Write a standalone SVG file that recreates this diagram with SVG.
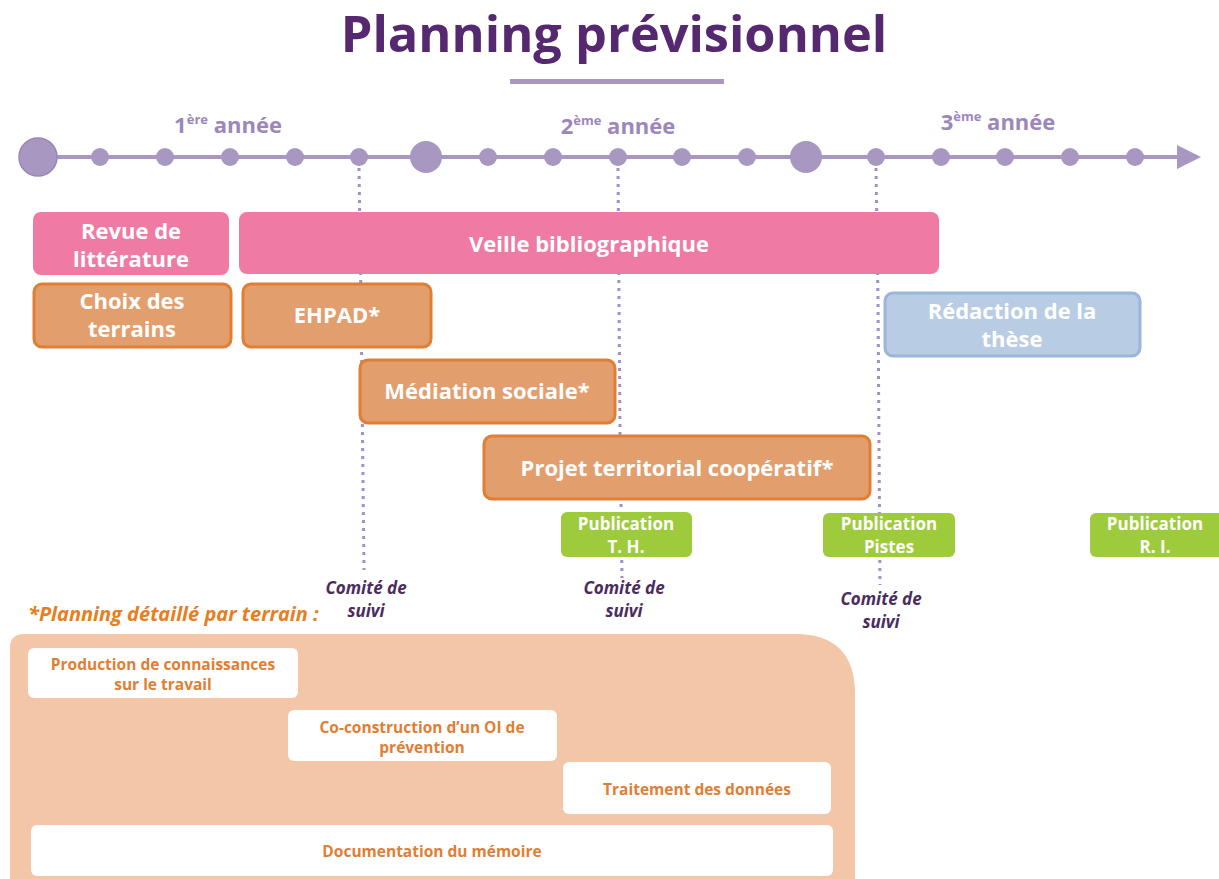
<svg xmlns="http://www.w3.org/2000/svg" width="1219" height="879" viewBox="0 0 1219 879">
<style>
text{font-family:"Open Sans","Liberation Sans",sans-serif;font-weight:bold}
.title{font-size:50.5px;fill:#55286F}
.yr{font-size:22px;fill:#9C87BC}
.sup{font-size:13px}
.w{fill:#fff;font-size:22px}
.pink{fill:#EF7BA5}
.org{fill:#E29E6C;stroke:#E07E34;stroke-width:3}
.blue{fill:#B8CCE4;stroke:#9AB6DB;stroke-width:3}
.green{fill:#9DCB3B}
.pub{fill:#fff;font-size:17px}
.com{fill:#4B2C5E;font-size:17px;font-style:italic}
.wb{fill:#fff}
.ot{fill:#E07E34;font-size:15.5px}
.dot{stroke:#A48FC4;stroke-width:3;stroke-dasharray:3 5;fill:none}
.tl{fill:#A897C0}
</style>
<text class="title" x="614" y="52" text-anchor="middle">Planning prévisionnel</text>
<rect x="510" y="79" width="214" height="5" fill="#A897C0"/>
<g id="timeline">
<line x1="38" y1="157" x2="1182" y2="157" stroke="#A897C0" stroke-width="4"/>
<polygon points="1177,145 1201,157 1177,169" class="tl"/>
<circle cx="38" cy="157" r="19" class="tl" stroke="#9985B8" stroke-width="1.5"/>
<circle cx="426" cy="157" r="16" class="tl"/>
<circle cx="806" cy="157" r="16" class="tl"/>
<g class="tl">
<circle cx="100" cy="157" r="9"/><circle cx="165" cy="157" r="9"/><circle cx="230" cy="157" r="9"/><circle cx="295" cy="157" r="9"/><circle cx="359" cy="157" r="9"/>
<circle cx="488" cy="157" r="9"/><circle cx="553" cy="157" r="9"/><circle cx="618" cy="157" r="9"/><circle cx="682" cy="157" r="9"/><circle cx="747" cy="157" r="9"/>
<circle cx="876" cy="157" r="9"/><circle cx="941" cy="157" r="9"/><circle cx="1005" cy="157" r="9"/><circle cx="1070" cy="157" r="9"/><circle cx="1135" cy="157" r="9"/>
</g>
<text class="yr" x="228" y="133" text-anchor="middle">1<tspan class="sup" dy="-9">ère</tspan><tspan dy="9"> année</tspan></text>
<text class="yr" x="618" y="134" text-anchor="middle">2<tspan class="sup" dy="-9">ème</tspan><tspan dy="9"> année</tspan></text>
<text class="yr" x="998" y="130" text-anchor="middle">3<tspan class="sup" dy="-9">ème</tspan><tspan dy="9"> année</tspan></text>
</g>
<g id="connectors">
<path class="dot" d="M359 168 L361 300 L364 570"/>
<path class="dot" d="M618 168 L620 430 L622 578"/>
<path class="dot" d="M876 168 L878 300 L880 585"/>
</g>
<g id="revue"><rect x="33" y="212" width="196" height="63" rx="8" class="pink"/>
<text class="w" x="131" y="239" text-anchor="middle">Revue de</text><text class="w" x="131" y="267" text-anchor="middle">littérature</text></g>
<g id="veille"><rect x="239" y="212" width="700" height="62" rx="8" class="pink"/>
<text class="w" x="589" y="252" text-anchor="middle">Veille bibliographique</text></g>
<g id="choix"><rect x="34" y="284" width="197" height="63" rx="8" class="org"/>
<text class="w" x="132" y="309" text-anchor="middle">Choix des</text><text class="w" x="132" y="337" text-anchor="middle">terrains</text></g>
<g id="ehpad"><rect x="243" y="284" width="188" height="63" rx="8" class="org"/>
<text class="w" x="337" y="323" text-anchor="middle">EHPAD*</text></g>
<g id="mediation"><rect x="360" y="360" width="255" height="63" rx="8" class="org"/>
<text class="w" x="487" y="399" text-anchor="middle">Médiation sociale*</text></g>
<g id="projet"><rect x="484" y="436" width="386" height="63" rx="8" class="org"/>
<text class="w" x="677" y="476" text-anchor="middle">Projet territorial coopératif*</text></g>
<g id="redaction"><rect x="885" y="293" width="255" height="63" rx="8" class="blue"/>
<text class="w" x="1012" y="319" text-anchor="middle">Rédaction de la</text><text class="w" x="1012" y="347" text-anchor="middle">thèse</text></g>
<g id="pubTH"><rect x="561" y="512" width="131" height="45" rx="6" class="green"/>
<text class="pub" x="626" y="530" text-anchor="middle">Publication</text><text class="pub" x="626" y="553" text-anchor="middle">T. H.</text></g>
<g id="pubPistes"><rect x="823" y="513" width="132" height="44" rx="6" class="green"/>
<text class="pub" x="889" y="530" text-anchor="middle">Publication</text><text class="pub" x="889" y="553" text-anchor="middle">Pistes</text></g>
<g id="pubRI"><rect x="1090" y="513" width="135" height="44" rx="6" class="green"/>
<text class="pub" x="1155" y="530" text-anchor="middle">Publication</text><text class="pub" x="1155" y="553" text-anchor="middle">R. I.</text></g>
<g id="comite1"><text class="com" x="366" y="594" text-anchor="middle">Comité de</text><text class="com" x="366" y="617" text-anchor="middle">suivi</text></g>
<g id="comite2"><text class="com" x="624" y="594" text-anchor="middle">Comité de</text><text class="com" x="624" y="617" text-anchor="middle">suivi</text></g>
<g id="comite3"><text class="com" x="881" y="605" text-anchor="middle">Comité de</text><text class="com" x="881" y="628" text-anchor="middle">suivi</text></g>
<text x="28" y="621" fill="#E67E22" font-size="20" font-style="italic">*Planning détaillé par terrain :</text>
<g id="panel"><path d="M10 648 Q10 634 24 634 L795 634 Q855 634 855 694 L855 879 L10 879 Z" fill="#F2C6A6"/></g>
<g id="production"><rect x="28" y="648" width="270" height="50" rx="6" class="wb"/>
<text class="ot" x="163" y="670" text-anchor="middle">Production de connaissances</text><text class="ot" x="163" y="690" text-anchor="middle">sur le travail</text></g>
<g id="coconstruction"><rect x="288" y="710" width="269" height="51" rx="6" class="wb"/>
<text class="ot" x="422" y="733" text-anchor="middle">Co-construction d’un OI de</text><text class="ot" x="422" y="753" text-anchor="middle">prévention</text></g>
<g id="traitement"><rect x="563" y="762" width="268" height="52" rx="6" class="wb"/>
<text class="ot" x="697" y="795" text-anchor="middle">Traitement des données</text></g>
<g id="documentation"><rect x="31" y="825" width="802" height="51" rx="6" class="wb"/>
<text class="ot" x="432" y="857" text-anchor="middle">Documentation du mémoire</text></g>
</svg>
